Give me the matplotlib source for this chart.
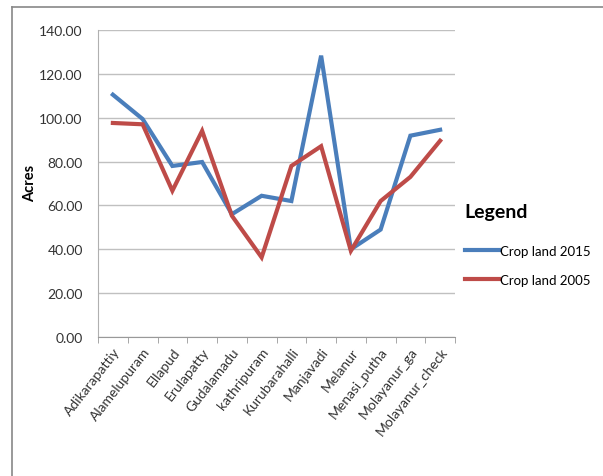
import matplotlib
matplotlib.use("Agg")
import matplotlib.pyplot as plt
from matplotlib.lines import Line2D

villages = ["Adikarapattiy", "Alamelupuram", "Ellapud", "Erulapatty", "Gudalamadu",
            "kathripuram", "Kurubarahalli", "Manjavadi", "Melanur", "Menasi_putha",
            "Molayanur_ga", "Molayanur_check"]
crop_2015 = [110.5, 99.4, 78.0, 79.8, 56.0, 64.4, 62.0, 128.3, 40.0, 49.0, 91.8, 94.5]
crop_2005 = [97.6, 97.0, 66.7, 94.0, 55.3, 36.3, 78.0, 87.0, 39.3, 62.0, 73.0, 89.5]
yticks = [0, 20, 40, 60, 80, 100, 120, 140]

plt.rcParams['font.family'] = ['Lato', 'DejaVu Sans']

W, H = 603, 477
fig = plt.figure(figsize=(W / 100, H / 100), dpi=100)
ax = fig.add_axes([98 / W, 1 - 338 / H, (455 - 98) / W, (338 - 31) / H])

blue = "#4a7ebb"
red = "#be4b48"
x = list(range(len(villages)))
ax.plot(x, crop_2015, color=blue, lw=3.0, solid_joinstyle="miter", zorder=3)
ax.plot(x, crop_2005, color=red, lw=3.0, solid_joinstyle="miter", zorder=3)

ax.set_xlim(-0.5, len(villages) - 0.5)
ax.set_ylim(0, 140)
ax.set_yticks(yticks)
ax.set_yticklabels([f"{v:.2f}" for v in yticks], fontsize=10, color="#333333")
ax.yaxis.grid(True, color="#c0c0c0", lw=1)
ax.set_axisbelow(True)
ax.tick_params(axis="y", length=0, pad=11)

ax.set_xticks(x)
ax.set_xticklabels(villages, rotation=52, ha="right", rotation_mode="anchor",
                   fontsize=10, color="#333333")
ax.tick_params(axis="x", length=0, pad=6)
ax.set_xticks([i - 0.5 for i in range(len(villages) + 1)], minor=True)
ax.tick_params(axis="x", which="minor", length=4, color="#999999", direction="out")

for s in ["top", "right"]:
    ax.spines[s].set_visible(False)
ax.spines["left"].set_color("#b0b0b0")
ax.spines["bottom"].set_color("#999999")

fig.text(30 / W, 1 - 183 / H, "Acres", rotation=90, ha="center", va="center",
         fontsize=10.5, fontweight="bold")

handles = [Line2D([], [], color=blue, lw=3), Line2D([], [], color=red, lw=3)]
leg = fig.legend(handles, ["Crop land 2015", "Crop land 2005"], loc="upper left",
                 bbox_to_anchor=(453 / W, 1 - 192 / H), frameon=False, fontsize=9.5,
                 handlelength=2.6, handletextpad=0.05, labelspacing=1.3,
                 title="Legend", title_fontproperties={"weight": "bold", "size": 14},
                 alignment="left")
leg._legend_box.sep = 18

# outer frame lines
fig.add_artist(Line2D([12 / W, 1], [1 - 8 / H, 1 - 8 / H], color="#888888", lw=1.2))
fig.add_artist(Line2D([12 / W, 12 / W], [0, 1 - 8 / H], color="#888888", lw=1.2))

fig.savefig("out.png", dpi=100)
